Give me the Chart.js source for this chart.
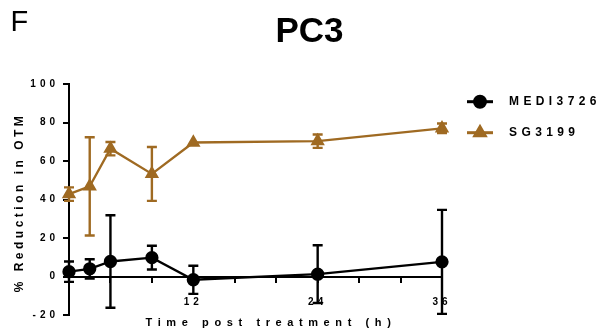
<!DOCTYPE html>
<html><head><meta charset="utf-8">
<script src="https://cdn.jsdelivr.net/npm/chart.js@4"></script>
<style>
html,body{margin:0;padding:0;background:#fff;}
#wrap{position:relative;width:615px;height:333px;overflow:hidden;}
canvas{position:absolute;left:0;top:0;}
.t{position:absolute;font-family:"Liberation Sans",Arial,sans-serif;line-height:1;color:#000;white-space:nowrap;}
</style></head><body>
<div id="wrap"><canvas id="c" width="615" height="333"></canvas>
<div class="t" style="left:10.5px;top:6.5px;font-size:29px;">F</div>
<div class="t" style="left:209.5px;width:200px;text-align:center;top:12.4px;font-size:35px;font-weight:bold;">PC3</div>
</div>
<script>
const timeHours = [0, 2, 4, 8, 12, 24, 36];
const mediMean = [2.5, 4, 7.8, 9.8, -1.7, 1.2, 7.6];
const mediErr = [5.3, 5, 24, 6.2, 7.3, 15, 27];
const sgMean = [42.8, 46.8, 66.4, 53.3, 69.6, 70.3, 77];
const sgErr = [3.5, 25.5, 3.5, 14, 0, 3.5, 2.5];
const seriesNames = ['MEDI3726', 'SG3199'];
const yTicks = [-20, 0, 20, 40, 60, 80, 100];
const xLabelTicks = [12, 24, 36];
const xTitle = 'Time post treatment (h)';
const yTitle = '% Reduction in OTM';

const FAM = '"Liberation Sans", Arial, sans-serif';
const BROWN = '#9f6a22';

function pts(means){ return timeHours.map((t,i)=>({x:t,y:means[i]})); }

const errorBarPlugin = {
  id:'errorBars',
  afterDatasetsDraw(chart){
    const ctx = chart.ctx, xs = chart.scales.x, ys = chart.scales.y;
    chart.data.datasets.forEach(ds=>{
      ctx.save();
      ctx.strokeStyle = ds.borderColor; ctx.lineWidth = 2.4;
      ds.data.forEach((p,i)=>{
        const e = ds.errorBars[i]; if(!e) return;
        const x = xs.getPixelForValue(p.x);
        const y1 = ys.getPixelForValue(p.y + e), y2 = ys.getPixelForValue(p.y - e);
        ctx.beginPath(); ctx.moveTo(x,y1); ctx.lineTo(x,y2);
        ctx.moveTo(x-5,y1); ctx.lineTo(x+5,y1);
        ctx.moveTo(x-5,y2); ctx.lineTo(x+5,y2);
        ctx.stroke();
      });
      ctx.restore();
    });
  }
};

const textPlugin = {
  id:'texts',
  beforeDraw(chart){ chart.ctx.letterSpacing = '4px'; },
  afterDraw(chart){
    const ctx = chart.ctx;
    // y title
    ctx.save();
    ctx.letterSpacing = '3.5px';
    ctx.fillStyle = '#000';
    ctx.font = 'bold 12px ' + FAM;
    ctx.translate(19.5, 202.5); ctx.rotate(-Math.PI/2);
    ctx.textAlign = 'center'; ctx.textBaseline = 'middle';
    ctx.fillText(yTitle, 0, 0);
    ctx.restore();
    // x title
    ctx.save();
    ctx.letterSpacing = '5.6px';
    ctx.fillStyle = '#000';
    ctx.font = 'bold 11px ' + FAM;
    ctx.textAlign = 'center'; ctx.textBaseline = 'alphabetic';
    ctx.fillText(xTitle, 271, 326);
    ctx.restore();
    // legend
    const rows = [101.7, 132.7];
    chart.data.datasets.forEach((ds,i)=>{
      const y = rows[i];
      ctx.save();
      ctx.strokeStyle = ds.borderColor; ctx.fillStyle = ds.borderColor; ctx.lineWidth = 3;
      ctx.beginPath(); ctx.moveTo(467,y); ctx.lineTo(493,y); ctx.stroke();
      Chart.helpers.drawPoint(ctx, {pointStyle: ds.pointStyle, radius: ds.pointRadius, rotation:0, borderWidth:1}, 480, y);
      ctx.letterSpacing = '4.4px';
      ctx.fillStyle = '#000';
      ctx.font = 'bold 12px ' + FAM;
      ctx.textAlign = 'left'; ctx.textBaseline = 'middle';
      ctx.fillText(ds.label, 509, y);
      ctx.restore();
    });
  }
};

new Chart(document.getElementById('c'), {
  type:'line',
  data:{
    datasets:[
      {label:seriesNames[0], data:pts(mediMean), errorBars:mediErr, borderColor:'#000', backgroundColor:'#000',
       pointBackgroundColor:'#000', pointBorderColor:'#000', borderWidth:2.3, pointRadius:5.5, pointHoverRadius:5.5, pointStyle:'circle', tension:0, clip:false},
      {label:seriesNames[1], data:pts(sgMean), errorBars:sgErr, borderColor:BROWN, backgroundColor:BROWN,
       pointBackgroundColor:BROWN, pointBorderColor:BROWN, borderWidth:2.3, pointRadius:6, pointHoverRadius:6, pointStyle:'triangle', tension:0, clip:false}
    ]
  },
  options:{
    responsive:false, devicePixelRatio:1, animation:false,
    layout:{padding:{left:0,right:173,top:84,bottom:18}},
    plugins:{legend:{display:false}, title:{display:false}, tooltip:{enabled:false}},
    scales:{
      x:{type:'linear', position:{y:0}, min:0, max:36,
        ticks:{stepSize:4, autoSkip:false, maxRotation:0, color:'#000', padding:15,
          font:{family:FAM, size:10, weight:'bold'},
          callback:v=> xLabelTicks.includes(v) ? String(v) : ''},
        grid:{drawOnChartArea:false, drawTicks:true, tickLength:5, color:'#000', lineWidth:2},
        border:{display:true, color:'#000', width:2}},
      y:{type:'linear', min:-20, max:100,
        afterFit:s=>{ s.width = 69; },
        afterBuildTicks:s=>{ s.ticks = yTicks.map(v=>({value:v})); },
        ticks:{color:'#000', padding:4, font:{family:FAM, size:10, weight:'bold'}},
        grid:{drawOnChartArea:false, drawTicks:true, tickLength:6, color:'#000', lineWidth:2},
        border:{display:true, color:'#000', width:2}}
    }
  },
  plugins:[errorBarPlugin, textPlugin]
});
</script>
</body></html>
